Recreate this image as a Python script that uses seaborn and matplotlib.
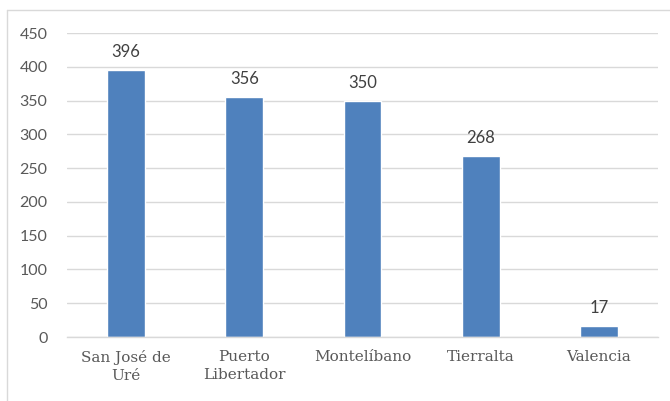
import matplotlib
matplotlib.use("Agg")
import matplotlib.pyplot as plt
import seaborn as sns
import pandas as pd

categories = ["San José de\nUré", "Puerto\nLibertador", "Montelíbano", "Tierralta", "Valencia"]
values = [396, 356, 350, 268, 17]
yticks = [0, 50, 100, 150, 200, 250, 300, 350, 400, 450]

df = pd.DataFrame({"cat": categories, "val": values})

sns.set_theme(style="white")
plt.rcParams['font.family'] = ['Lato', 'DejaVu Sans']

fig = plt.figure(figsize=(6.7, 4.01), dpi=100)
ax = fig.add_axes([0.1, 0.1596, 0.882, 0.758])

sns.barplot(data=df, x="cat", y="val", color="#4F81BD", saturation=1, width=0.32, ax=ax)

ax.set_ylim(0, 450)
ax.set_yticks(yticks)
ax.set_yticklabels([str(t) for t in yticks], color="#595959", fontsize=11.5)
ax.yaxis.grid(True, color="#D9D9D9", linewidth=1)
ax.set_axisbelow(True)
for s in ["top", "right", "left"]:
    ax.spines[s].set_visible(False)
ax.spines["bottom"].set_color("#D9D9D9")
ax.spines["bottom"].set_linewidth(1)
ax.tick_params(axis="y", length=0, pad=14)
ax.tick_params(axis="x", length=0, pad=9)
ax.set_xlabel("")
ax.set_ylabel("")
for lbl in ax.get_xticklabels():
    lbl.set_family(["DejaVu Serif"])
    lbl.set_fontsize(11)
    lbl.set_color("#595959")
    lbl.set_linespacing(1.45)

for i, v in enumerate(values):
    ax.annotate(str(v), (i, v), xytext=(0, 7), textcoords="offset points",
                ha="center", va="bottom", fontsize=12, color="#404040")

# outer chart frame (top and left visible)
fig.add_artist(plt.Line2D([7/670, 1], [1-10/401, 1-10/401], color="#D9D9D9", lw=1))
fig.add_artist(plt.Line2D([7/670, 7/670], [0, 1-10/401], color="#D9D9D9", lw=1))

fig.savefig("out.png", dpi=100)
